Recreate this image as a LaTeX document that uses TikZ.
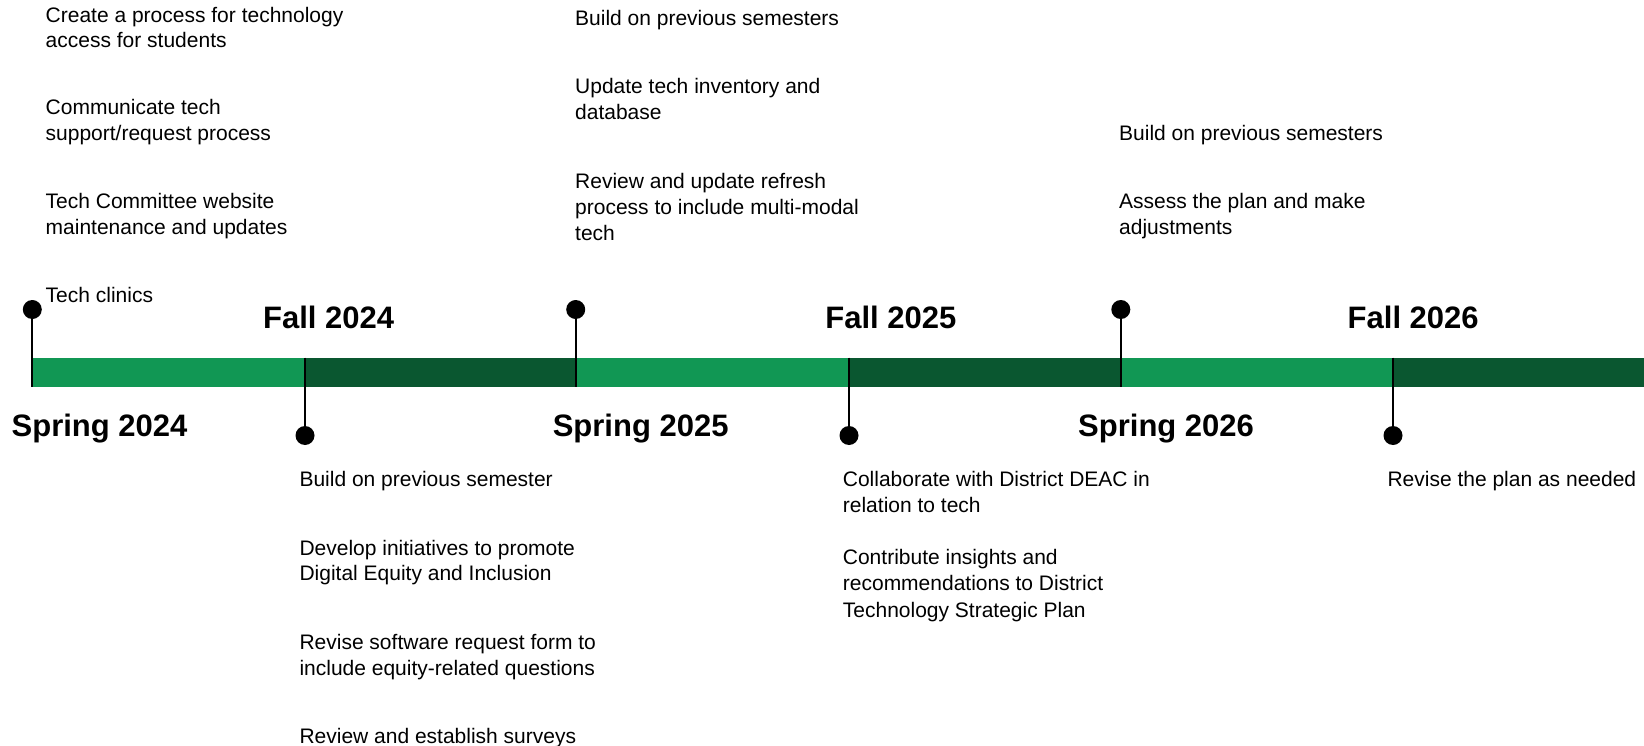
\documentclass[tikz,border=0pt]{standalone}
\usepackage{fontspec}
\setmainfont{Liberation Sans}
\definecolor{lightg}{RGB}{17,151,84}
\definecolor{darkg}{RGB}{10,87,48}
\tikzset{
  item/.style={anchor=base west, inner sep=0pt, text=black, font=\fontsize{21}{25.8}\selectfont},
  itemwide/.style={item, font=\fontsize{21}{26.3}\selectfont},
  head/.style={anchor=base west, inner sep=0pt, text=black, font=\fontsize{31}{36}\selectfont\bfseries},
  dotmark/.style={circle, fill=black, minimum size=19pt, inner sep=0pt},
  stem/.style={line width=2.2pt, black},
}
\newcommand{\ml}[1]{\begin{tabular}[t]{@{}l@{}}#1\end{tabular}}
\begin{document}
\begin{tikzpicture}[x=1pt,y=-1pt]
\useasboundingbox (0,0) rectangle (1644,746);
% bar segments
\fill[lightg] (32.3,357.7) rectangle (305,386.7);
\fill[darkg] (305,357.7) rectangle (575.7,386.7);
\fill[lightg] (575.7,357.7) rectangle (849,386.7);
\fill[darkg] (849,357.7) rectangle (1120.8,386.7);
\fill[lightg] (1120.8,357.7) rectangle (1393,386.7);
\fill[darkg] (1393,357.7) rectangle (1644,386.7);
% bar edge coordinates
\coordinate (b1) at (32.3,386.7);
\coordinate (b3) at (575.7,386.7);
\coordinate (b5) at (1120.8,386.7);
\coordinate (a2) at (305,357.7);
\coordinate (a4) at (849,357.7);
\coordinate (a6) at (1393,357.7);
% markers
\node[dotmark] (m1) at (32.3,309.5) {};
\node[dotmark] (m3) at (575.7,309.5) {};
\node[dotmark] (m5) at (1120.8,309.5) {};
\node[dotmark] (m2) at (305,435.5) {};
\node[dotmark] (m4) at (849,435.5) {};
\node[dotmark] (m6) at (1393,435.5) {};
\draw[stem] (m1.center) -- (b1);
\draw[stem] (m3.center) -- (b3);
\draw[stem] (m5.center) -- (b5);
\draw[stem] (a2) -- (m2.center);
\draw[stem] (a4) -- (m4.center);
\draw[stem] (a6) -- (m6.center);
% headings
\node[head] (s24) at (11.5,436.7) {Spring 2024};
\node[head] (s25) at (552.6,436.7) {Spring 2025};
\node[head] (s26) at (1078,436.7) {Spring 2026};
\node[head] (f24) at (263,328.3) {Fall 2024};
\node[head] (f25) at (825.2,328.3) {Fall 2025};
\node[head] (f26) at (1347.5,328.3) {Fall 2026};
% top column 1
\node[item] (t11) at (45.5,22.2) {\ml{Create a process for technology\\access for students}};
\node[item] (t12) at (45.5,115) {\ml{Communicate tech\\support/request process}};
\node[item] (t13) at (45.5,208.8) {\ml{Tech Committee website\\maintenance and updates}};
\node[item] (t14) at (45.5,302.5) {Tech clinics};
% top column 2
\node[item] (t21) at (575,25.3) {Build on previous semesters};
\node[item] (t22) at (575,94) {\ml{Update tech inventory and\\database}};
\node[item] (t23) at (575,188.5) {\ml{Review and update refresh\\process to include multi-modal\\tech}};
% top column 3
\node[item] (t31) at (1119,140.5) {Build on previous semesters};
\node[item] (t32) at (1119,209) {\ml{Assess the plan and make\\adjustments}};
% bottom column 1
\node[item] (b11) at (299.3,486) {Build on previous semester};
\node[item] (b12) at (299.3,555) {\ml{Develop initiatives to promote\\Digital Equity and Inclusion}};
\node[item] (b13) at (299.3,649.3) {\ml{Revise software request form to\\include equity-related questions}};
\node[item] (b14) at (299.3,743.3) {Review and establish surveys};
% bottom column 2
\node[itemwide] (b21) at (842.7,486.5) {\ml{Collaborate with District DEAC in\\relation to tech}};
\node[itemwide] (b22) at (842.7,564.5) {\ml{Contribute insights and\\recommendations to District\\Technology Strategic Plan}};
% bottom column 3
\node[item] (b31) at (1387.3,486.5) {Revise the plan as needed};
\end{tikzpicture}
\end{document}
